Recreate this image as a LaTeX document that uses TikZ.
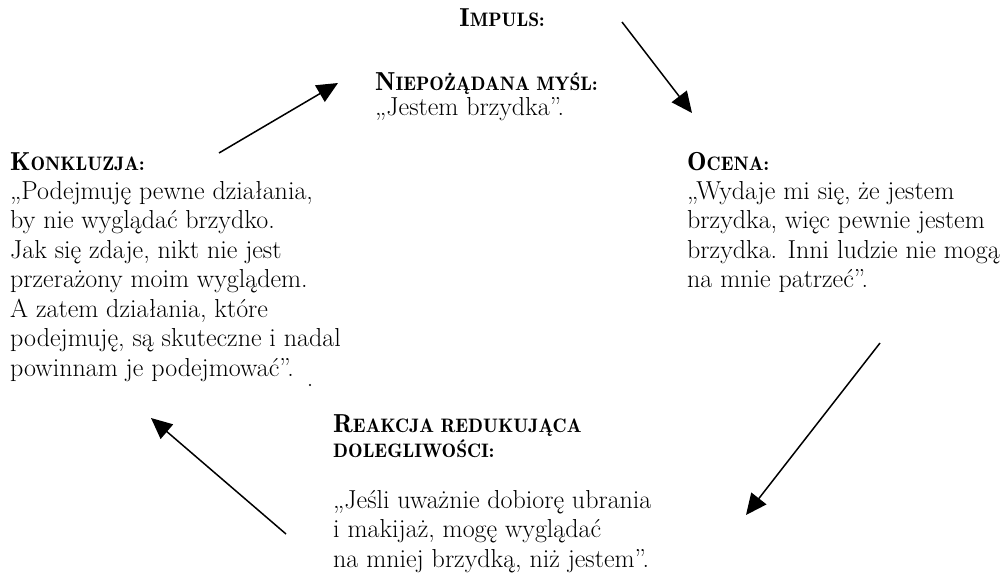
\documentclass[tikz,border=0pt]{standalone}
\usetikzlibrary{arrows.meta}
\newcommand{\hsc}[2]{{\fontseries{b}\selectfont #1{\fontsize{19.5}{25}\selectfont #2}}}
\tikzset{
  body/.style={font=\fontsize{26}{29.5}\selectfont, align=left, inner sep=0pt, anchor=north west},
  head/.style={font=\fontsize{26}{25}\selectfont, align=left, inner sep=0pt},
  arr/.style={line width=1.5pt, -{Triangle[length=21pt,width=19pt]}}
}
\begin{document}
\begin{tikzpicture}[x=1pt,y=-1pt]
\useasboundingbox (0,0) rectangle (1006,577);
% headings and texts
\node[head, anchor=base] (impuls) at (502,27) {\hsc{I}{MPULS:}};
\node[head, anchor=base west] (niepH) at (375,91) {\hsc{N}{IEPOŻĄDANA MYŚL:}};
\node[body, anchor=base west] (niep) at (375,116) {„Jestem brzydka”.};
\node[head, anchor=base west] (konkH) at (10,171) {\hsc{K}{ONKLUZJA:}};
\node[body] (konk) at (10,181) {„Podejmuję pewne działania,\\by nie wyglądać brzydko.\\Jak się zdaje, nikt nie jest\\przerażony moim wyglądem.\\A zatem działania, które\\podejmuję, są skuteczne i nadal\\powinnam je podejmować”.};
\node[head, anchor=base west] (ocenaH) at (687,171) {\hsc{O}{CENA:}};
\node[body] (ocena) at (687,181) {„Wydaje mi się, że jestem\\brzydka, więc pewnie jestem\\brzydka. Inni ludzie nie mogą\\na mnie patrzeć”.};
\node[head, anchor=north west] (reakH) at (333,414) {\hsc{R}{EAKCJA REDUKUJĄCA}\\\hsc{}{DOLEGLIWOŚCI:}};
\node[body] (reak) at (333,490) {„Jeśli uważnie dobiorę ubrania\\i makijaż, mogę wyglądać\\na mniej brzydką, niż jestem”.};
\fill (310,385) circle (1.1pt);
% arrow end points
\coordinate (a1s) at (622,22);  \coordinate (a1e) at (692,113);
\coordinate (a2s) at (880,343); \coordinate (a2e) at (746,515);
\coordinate (a3s) at (286,534); \coordinate (a3e) at (151,418);
\coordinate (a4s) at (219,153); \coordinate (a4e) at (338,83);
\draw[arr] (a1s) -- (a1e);
\draw[arr] (a2s) -- (a2e);
\draw[arr] (a3s) -- (a3e);
\draw[arr] (a4s) -- (a4e);
\end{tikzpicture}
\end{document}
